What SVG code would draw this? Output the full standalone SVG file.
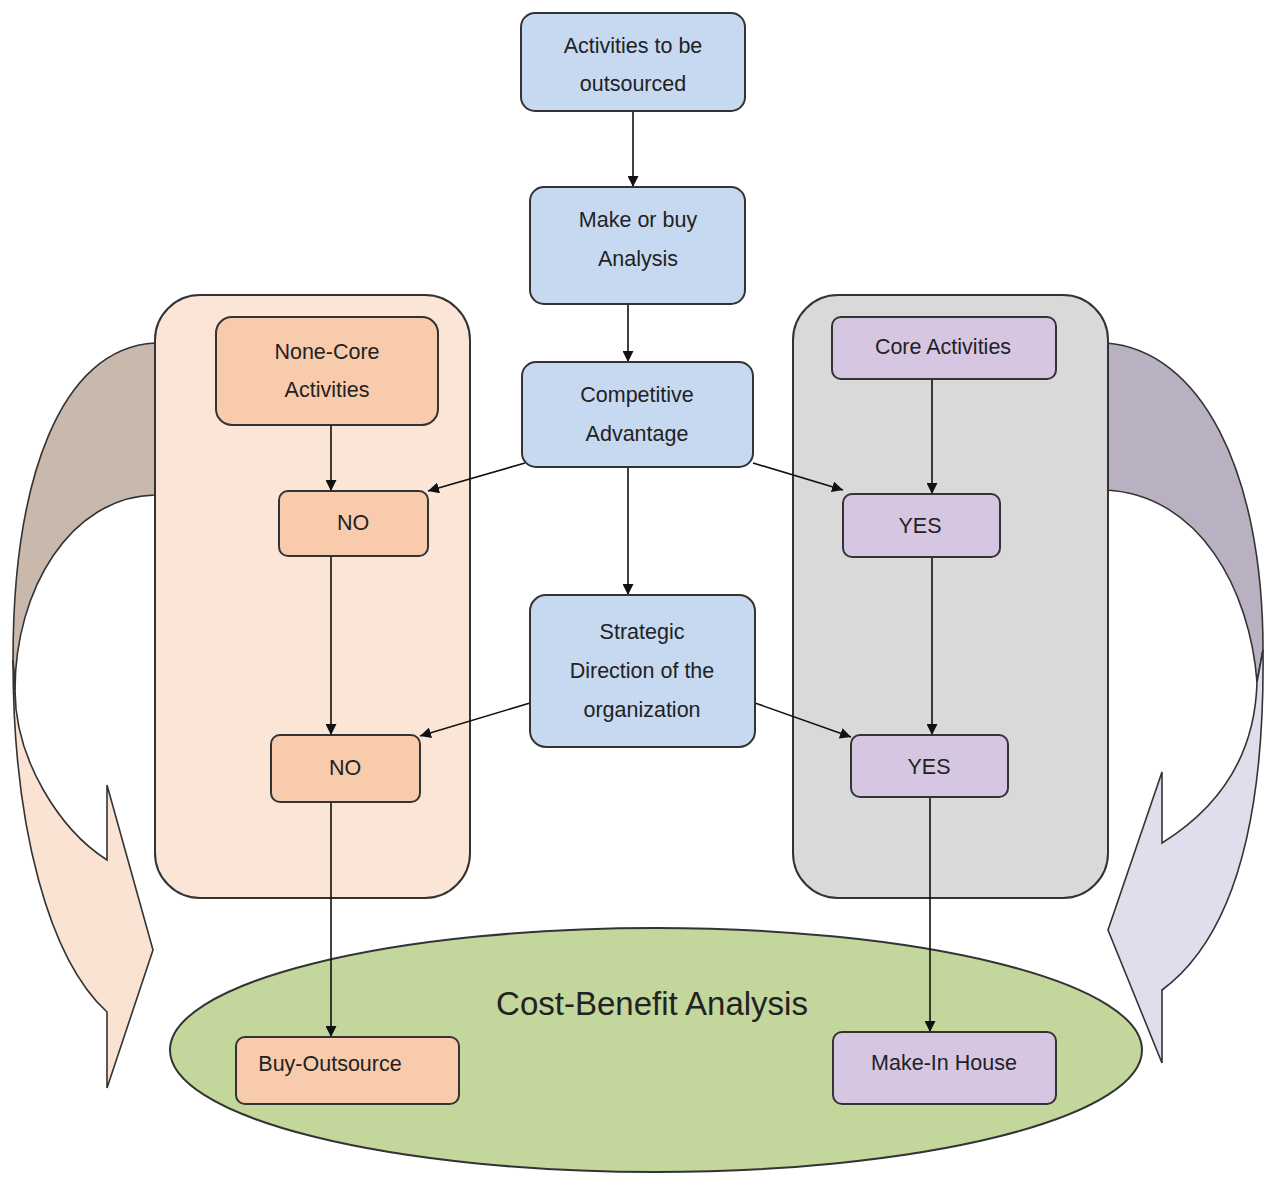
<svg xmlns="http://www.w3.org/2000/svg" width="1269" height="1203" viewBox="0 0 1269 1203">
<style>
text{font-family:"Liberation Sans",Arial,sans-serif;font-size:21.5px;fill:#222;text-anchor:middle}
.ol{stroke:#333;stroke-width:1.6}
.blue{fill:#c6d9f0;stroke:#333;stroke-width:2}
.peach{fill:#f8cbad;stroke:#333;stroke-width:2}
.purple{fill:#d6c6e2;stroke:#333;stroke-width:2}
.con{stroke:#111;stroke-width:1.6;fill:none;marker-end:url(#ah)}
</style>
<defs>
<marker id="ah" viewBox="0 0 10 10" refX="10" refY="5" markerWidth="11" markerHeight="11" markerUnits="userSpaceOnUse" orient="auto">
<path d="M0,0 L10,5 L0,10 Z" fill="#111"/>
</marker>
</defs>
<rect width="1269" height="1203" fill="#fff"/>
<g id="curved-arrow-left">
<path class="ol" fill="#c9b8ac" d="M155,343 C60,348 13,480 13,660 L15,690 C15,590 70,497 155,495 Z"/>
<path class="ol" fill="#fbe3d3" d="M13,660 C13,830 50,960 107,1012 L107,1088 L153,950 L107,785 L107,860 C60,830 15,760 15,690 Z"/>
</g>
<g id="curved-arrow-right">
<path class="ol" fill="#b9b1c1" d="M1106,343 C1200,350 1263,470 1263,650 L1257,682 C1250,590 1200,495 1106,490 Z"/>
<path class="ol" fill="#e1ddec" d="M1263,650 C1265,830 1230,940 1162,990 L1162,1063 L1108,930 L1162,772 L1162,843 C1215,810 1255,760 1257,682 Z"/>
</g>
<g id="panel-left"><rect x="155" y="295" width="315" height="603" rx="45" fill="#fbe5d6" stroke="#333" stroke-width="2"/></g>
<g id="panel-right"><rect x="793" y="295" width="315" height="603" rx="45" fill="#d9d9d9" stroke="#333" stroke-width="2"/></g>
<g id="cost-benefit">
<ellipse cx="656" cy="1050" rx="486" ry="122" fill="#c3d69b" stroke="#333" stroke-width="2"/>
<text x="652" y="1015" style="font-size:33px">Cost-Benefit Analysis</text>
</g>
<g id="connectors">
<line class="con" x1="633" y1="111" x2="633" y2="187"/>
<line class="con" x1="628" y1="304" x2="628" y2="362"/>
<line class="con" x1="628" y1="467" x2="628" y2="595"/>
<line class="con" x1="525" y1="463" x2="428" y2="491"/>
<line class="con" x1="753" y1="463" x2="843" y2="490"/>
<line class="con" x1="530" y1="703" x2="420" y2="736"/>
<line class="con" x1="755" y1="703" x2="851" y2="737"/>
<line class="con" x1="331" y1="425" x2="331" y2="491"/>
<line class="con" x1="331" y1="556" x2="331" y2="735"/>
<line class="con" x1="331" y1="802" x2="331" y2="1037"/>
<line class="con" x1="932" y1="379" x2="932" y2="494"/>
<line class="con" x1="932" y1="557" x2="932" y2="735"/>
<line class="con" x1="930" y1="797" x2="930" y2="1032"/>
</g>
<g id="n-activities"><rect class="blue" x="521" y="13" width="224" height="98" rx="14"/><text x="633" y="53">Activities to be</text><text x="633" y="91">outsourced</text></g>
<g id="n-makebuy"><rect class="blue" x="530" y="187" width="215" height="117" rx="14"/><text x="638" y="227">Make or buy</text><text x="638" y="266">Analysis</text></g>
<g id="n-competitive"><rect class="blue" x="522" y="362" width="231" height="105" rx="14"/><text x="637" y="402">Competitive</text><text x="637" y="441">Advantage</text></g>
<g id="n-strategic"><rect class="blue" x="530" y="595" width="225" height="152" rx="16"/><text x="642" y="639">Strategic</text><text x="642" y="678">Direction of the</text><text x="642" y="717">organization</text></g>
<g id="n-noncore"><rect class="peach" x="216" y="317" width="222" height="108" rx="16"/><text x="327" y="359">None-Core</text><text x="327" y="397">Activities</text></g>
<g id="n-no1"><rect class="peach" x="279" y="491" width="149" height="65" rx="9"/><text x="353" y="530">NO</text></g>
<g id="n-no2"><rect class="peach" x="271" y="735" width="149" height="67" rx="9"/><text x="345" y="775">NO</text></g>
<g id="n-buy"><rect class="peach" x="236" y="1037" width="223" height="67" rx="9"/><text x="330" y="1071">Buy-Outsource</text></g>
<g id="n-core"><rect class="purple" x="832" y="317" width="224" height="62" rx="9"/><text x="943" y="354">Core Activities</text></g>
<g id="n-yes1"><rect class="purple" x="843" y="494" width="157" height="63" rx="9"/><text x="920" y="533">YES</text></g>
<g id="n-yes2"><rect class="purple" x="851" y="735" width="157" height="62" rx="9"/><text x="929" y="774">YES</text></g>
<g id="n-make"><rect class="purple" x="833" y="1032" width="223" height="72" rx="9"/><text x="944" y="1070">Make-In House</text></g>
</svg>
